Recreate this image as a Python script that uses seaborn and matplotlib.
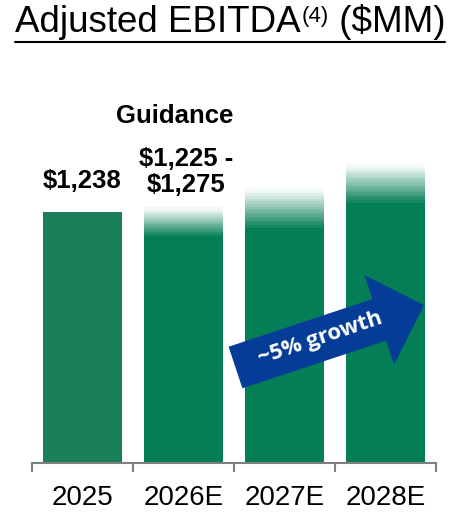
import numpy as np
import pandas as pd
import seaborn as sb
import matplotlib.pyplot as plt
from matplotlib.colors import to_rgb
from matplotlib.lines import Line2D

# data
years = ['2025', '2026E', '2027E', '2028E']
low = [1238, 1110, 1149, 1272]     # solid part of each bar
high = [1238, 1263, 1356, 1475]    # top of faded part
bar_colors = ['#1B7F5A', '#047E56', '#047E56', '#047E56']

sb.set_style('white')
plt.rcParams['font.family'] = ['Liberation Sans', 'DejaVu Sans']
plt.rcParams['text.color'] = 'black'
plt.rcParams['xtick.labelcolor'] = 'black'

W, H = 450, 512
fig = plt.figure(figsize=(W / 100, H / 100), dpi=100)
ax = fig.add_axes([32 / W, 49 / H, 404 / W, 403 / H])

df = pd.DataFrame({'year': years, 'low': low})
sb.barplot(data=df, x='year', y='low', hue='year', palette=bar_colors,
           width=0.79, legend=False, saturation=1, linewidth=0, ax=ax)

# faded tops on estimate bars
n_bands = 16
for i, (lo, hi, c) in enumerate(zip(low, high, bar_colors)):
    if hi <= lo:
        continue
    edges = np.linspace(lo, hi, n_bands + 1)
    base = np.array(to_rgb(c))
    for k in range(n_bands):
        t = min(k / (n_bands - 1), 0.95)
        col = base * (1 - t) + np.ones(3) * t
        ax.bar(i, edges[k + 1] - edges[k], bottom=edges[k] - 0.5, width=0.79,
               color=col, linewidth=0)

ax.set_xlim(-0.5, 3.5)
ax.set_ylim(0, 403 * 1238 / 251)
ax.set_xlabel('')
ax.set_ylabel('')
for s in ['top', 'right', 'left']:
    ax.spines[s].set_visible(False)
ax.spines['bottom'].set_color('#808080')
ax.spines['bottom'].set_linewidth(1.5)
ax.set_yticks([])
ax.set_xticks(np.arange(-0.5, 4, 1))
ax.set_xticklabels([])
ax.tick_params(axis='x', which='major', direction='out', length=6.5,
               width=1.5, color='#808080', bottom=True)
ax.set_xticks(range(len(years)), minor=True)
ax.set_xticklabels(years, minor=True, fontsize=20, color='black')
ax.tick_params(axis='x', which='minor', length=0, pad=16)

# value labels
ax.text(0, 1238 + 19 * 1238 / 251, '$1,238', ha='center', va='bottom',
        fontsize=18.5, fontweight='bold', color='black')
fig.text(186 / W, 1 - 172 / H, '$1,225 -\n$1,275', ha='center', va='center',
         fontsize=18.5, fontweight='bold', linespacing=1.15, color='black')
fig.text(175 / W, 1 - 116 / H, 'Guidance', ha='center', va='center',
         fontsize=18.5, fontweight='bold', color='black')

# growth arrow
ax.annotate('', xy=(424, H - 305), xycoords='figure pixels',
            xytext=(235.5, H - 367.5), textcoords='figure pixels',
            arrowprops=dict(arrowstyle='simple,head_length=34,head_width=68,tail_width=31.5',
                            mutation_scale=1, color='#043C97', shrinkA=0, shrinkB=0,
                            linewidth=0))
fig.text(320 / W, 1 - 338 / H, '~5% growth', ha='center', va='center',
         rotation=18.5, rotation_mode='anchor', color='white', fontsize=16,
         fontweight='bold', family=['Open Sans', 'DejaVu Sans'])

# title with superscript
r = fig.canvas.get_renderer()
t1 = fig.text(15 / W, 1 - 32 / H, 'Adjusted EBITDA', fontsize=26.5, va='baseline',
              color='black')
x1 = t1.get_window_extent(r).x1
t2 = fig.text(x1 / W + 1 / W, 1 - 22 / H, '(4)', fontsize=16, va='baseline',
              color='black')
x2 = t2.get_window_extent(r).x1
t3 = fig.text(x2 / W, 1 - 32 / H, ' ($MM)', fontsize=26.5, va='baseline',
              color='black')
x3 = t3.get_window_extent(r).x1
fig.add_artist(Line2D([15 / W, x3 / W], [1 - 42 / H] * 2, color='black', lw=1.5,
                      transform=fig.transFigure))

fig.savefig('out.png', dpi=100)
